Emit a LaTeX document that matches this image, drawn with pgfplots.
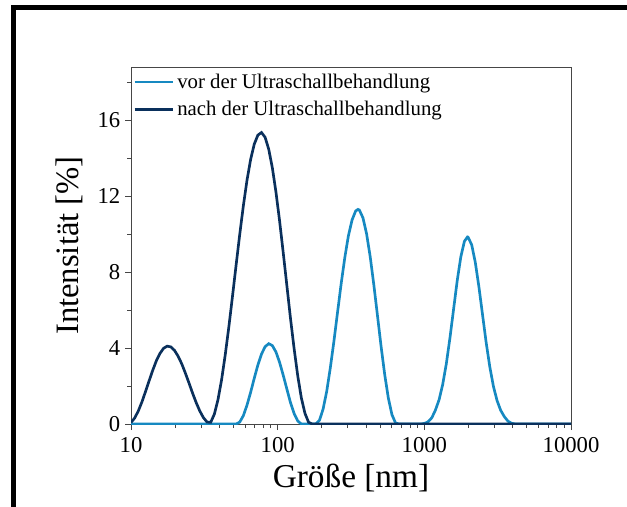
\documentclass[border=0pt]{standalone}
\usepackage{fontspec}
\setmainfont{Liberation Serif}
\usepackage{pgfplots}
\pgfplotsset{compat=1.18}
\definecolor{vorblue}{RGB}{22,137,193}
\definecolor{nachblue}{RGB}{10,48,92}
\definecolor{axgray}{RGB}{70,70,70}
\begin{document}
\begin{tikzpicture}
\begin{axis}[
  scale only axis, width=330pt, height=267.75pt,
  xmode=log, xmin=10, xmax=10000, ymin=0, ymax=18.8,
  xtick={10,100,1000,10000}, xticklabels={10,100,1000,10000},
  ytick={0,4,8,12,16}, yticklabels={0,4,8,12,16},
  minor ytick={2,6,10,14,18},
  tick align=outside, tick pos=left,
  major tick length=4.5pt, minor tick length=3pt,
  every tick/.style={axgray, line width=0.7pt},
  axis line style={axgray, line width=0.7pt},
  ticklabel style={font=\fontsize{17}{17}\selectfont},
  xticklabel style={yshift=-2pt},
  /pgf/number format/assume math mode=true,
  xlabel={Größe [nm]}, ylabel={Intensität [\%]},
  every axis x label/.style={at={(axis description cs:0.5,-0.151)}, anchor=center, font=\fontsize{25}{25}\selectfont},
  every axis y label/.style={at={(axis description cs:-0.139,0.5)}, rotate=90, anchor=center, font=\fontsize{24.5}{24.5}\selectfont},
  legend style={at={(axis description cs:0,1)}, anchor=north west, draw=none, fill=none,
    font=\fontsize{15.6}{17}\selectfont, inner xsep=1.5pt, inner ysep=3pt, row sep=4pt, cells={anchor=west}},
  legend image code/.code={\draw[#1, line width=2pt] (0pt,0pt) -- (29pt,0pt);},
]
\addplot[vorblue, line width=2pt] coordinates {
(10,0) (52.08,0) (55.12,0.10) (58.35,0.44) (61.77,0.99) (65.38,1.66) (69.20,2.40) (73.26,3.10) (77.55,3.68) (82.10,4.07) (86.90,4.23) (91.99,4.13) (97.37,3.79) (103.05,3.25) (109.10,2.57) (115.55,1.84) (122.26,1.13) (129.46,0.55) (137.03,0.16) (144.99,0) (182.11,0) (192.70,0.19) (203.97,0.78) (216.00,1.72) (228.56,2.96) (242.0,4.37) (256.2,5.90) (271.1,7.40) (287.0,8.77) (303.8,9.92) (321.7,10.75) (340.4,11.22) (353.0,11.30) (360.4,11.27) (381.5,10.86) (403.8,10.02) (427.5,8.81) (452.5,7.33) (479.0,5.72) (507.1,4.09) (536.7,2.61) (568.2,1.37) (601.5,0.49) (636.6,0.05) (673.8,0) (948,0) (1003,0.03) (1062,0.12) (1125,0.33) (1190,0.73) (1261,1.28) (1334,2.08) (1412,3.17) (1495,4.53) (1582,6.03) (1675,7.54) (1773,8.80) (1876,9.62) (1969,9.85) (1986,9.84) (2103,9.44) (2226,8.51) (2357,7.21) (2495,5.74) (2640,4.29) (2795,3.01) (2959,1.98) (3133,1.23) (3316,0.72) (3510,0.39) (3716,0.15) (3933,0.04) (4164,0) (10000,0)
};
\addlegendentry{vor der Ultraschallbehandlung}
\addplot[nachblue, line width=2pt] coordinates {
(10,0.08) (10.58,0.31) (11.21,0.68) (11.87,1.16) (12.56,1.71) (13.30,2.28) (14.07,2.83) (14.89,3.33) (15.77,3.72) (16.69,3.99) (17.66,4.10) (18.70,4.06) (19.79,3.88) (20.95,3.57) (22.18,3.17) (23.48,2.68) (24.85,2.16) (26.31,1.62) (27.84,1.12) (29.47,0.68) (31.20,0.33) (33.03,0.10) (34.96,0.09) (37.01,0.52) (39.18,1.28) (41.47,2.33) (43.90,3.64) (46.48,5.12) (49.19,6.72) (52.08,8.37) (55.12,9.98) (58.35,11.49) (61.77,12.83) (65.38,13.92) (69.20,14.73) (73.26,15.21) (77.55,15.35) (82.10,15.10) (86.90,14.47) (91.99,13.49) (97.37,12.21) (103.05,10.70) (109.10,9.03) (115.55,7.29) (122.26,5.57) (129.46,3.97) (137.03,2.54) (144.99,1.38) (153.5,0.56) (162.5,0.09) (172.0,0) (10000,0)
};
\addlegendentry{nach der Ultraschallbehandlung}
\end{axis}
\draw[line width=3.75pt, black] (-87.75pt,-80pt) -- (-87.75pt,312pt) -- (400pt,312pt);
\pgfresetboundingbox
\path[use as bounding box] (-98.25pt,-61.5pt) rectangle (372pt,318pt);
\end{tikzpicture}
\end{document}
